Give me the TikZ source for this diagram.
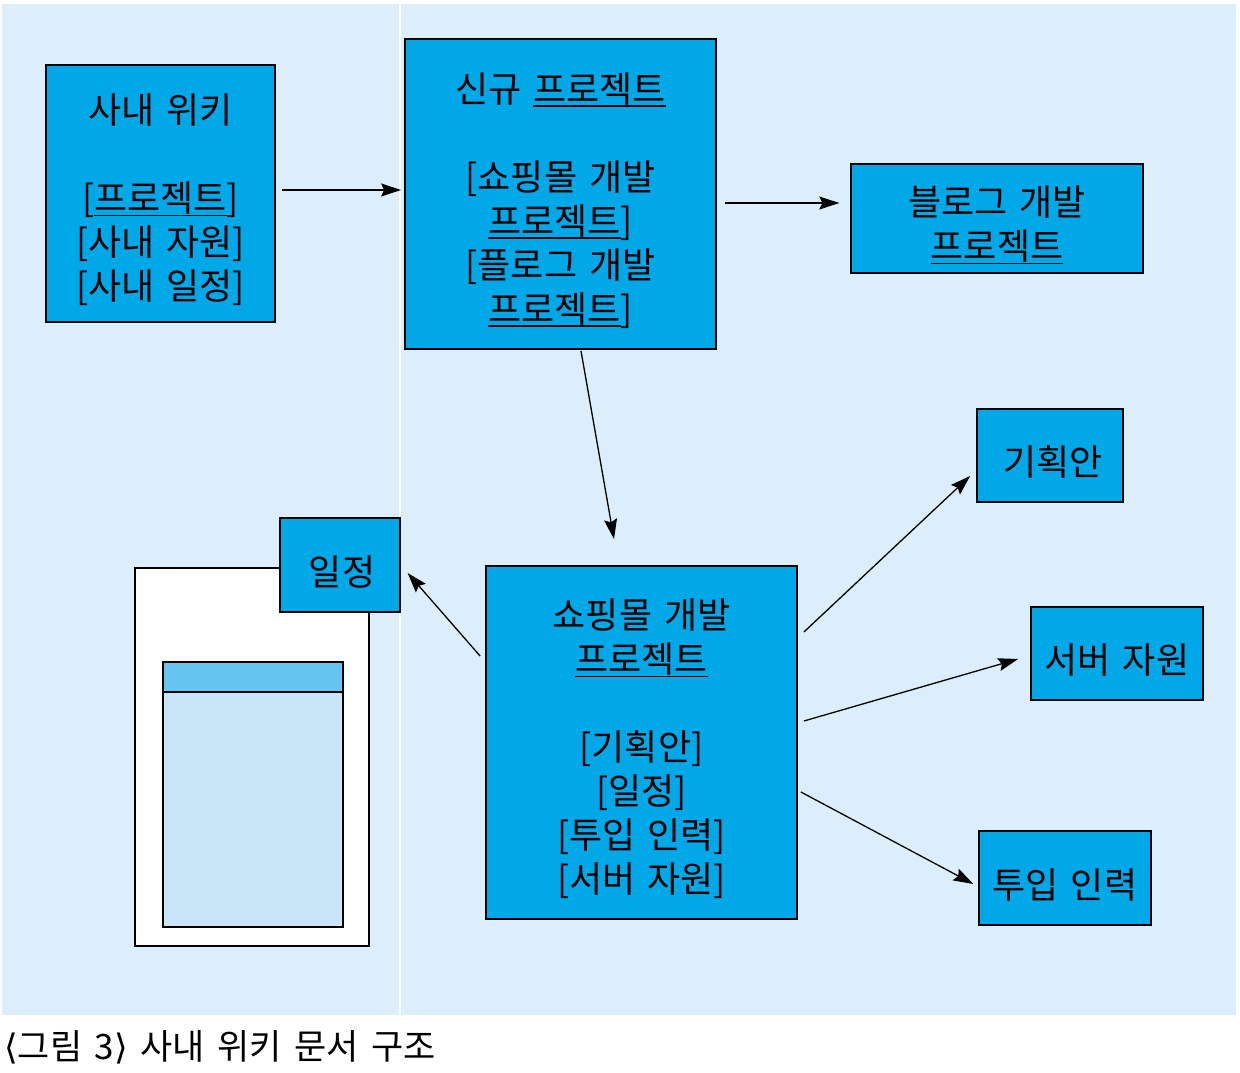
\documentclass[tikz,border=0pt]{standalone}
\usepackage{fontspec}
\setmainfont{Noto Sans CJK KR}
\newfontfamily\symfont{DejaVu Sans}
\usetikzlibrary{arrows.meta}
\definecolor{boxblue}{HTML}{00A8E8}
\definecolor{bgblue}{HTML}{DCEEFB}
\definecolor{headblue}{HTML}{66C4F0}
\definecolor{pageblue}{HTML}{C8E6F8}
\newlength\wlinkwd
\newcommand\wlink[1]{\settowidth\wlinkwd{#1}\rlap{\rule[-4.5pt]{\wlinkwd}{1.6pt}}#1}
\newcommand\widespace[1]{\spaceskip=#1em\relax}
\newcommand\lift{\rule{0pt}{43pt}}
\begin{document}
\begin{tikzpicture}[>={Stealth[length=20pt,width=13pt,inset=3pt]}, x=1pt, y=-1pt,
    box/.style={draw, line width=1.8pt, fill=boxblue, inner sep=0pt, align=center,
        font=\fontsize{36}{44}\selectfont, execute at begin node={\widespace{0.33}}},
    link/.style={->, line width=1.3pt}]
\useasboundingbox (0,0) rectangle (1240,1073);
\fill[bgblue](2,4) rectangle (1236,1015);
\draw[white, line width=1.5pt](400,4)--(400,1015);

% page icon
\draw[line width=1.8pt, fill=white](135,568) rectangle (369,946);
\draw[line width=1.8pt, fill=pageblue](163,662) rectangle (343,927);
\draw[line width=1.8pt, fill=headblue](163,662) rectangle (343,692);

\node (wiki) at (160.5,193.5)[box, minimum width=229pt, minimum height=257pt]
    {\lift 사내 위키\\[44pt]{[}\wlink{프로젝트}]\\{[}사내 자원]\\{[}사내 일정]};
\node (new) at (560.5,194)[box, minimum width=311pt, minimum height=310pt]
    {\lift 신규 \wlink{프로젝트}\\[44pt]{[}쇼핑몰 개발\\\wlink{프로젝트}]\\{[}플로그 개발\\\wlink{프로젝트}]};
\node (blog) at (997,218.5)[box, line width=1.3pt, minimum width=292pt, minimum height=109pt]
    {\lift 블로그 개발\\\wlink{프로젝트}};
\node (shop) at (641.5,742.5)[box, minimum width=311pt, minimum height=353pt]
    {\lift 쇼핑몰 개발\\\wlink{프로젝트}\\[44pt]{[}기획안]\\{[}일정]\\{[}투입 인력]\\{[}서버 자원]};
\node (plan) at (1050,455.5)[box, minimum width=146pt, minimum height=93pt]{\lift\hspace*{6pt}기획안};
\node (server) at (1117,653.5)[box, minimum width=172pt, minimum height=93pt]{\lift 서버 자원};
\node (staff) at (1065,878)[box, line width=1.3pt, minimum width=172pt, minimum height=94pt]{\lift 투입 인력};
\node (sched) at (340,565)[box, line width=1.3pt, minimum width=120pt, minimum height=94pt]{\lift\hspace*{4pt}일정};

\draw[link]([xshift=6pt,yshift=3.5pt]wiki.east)--([xshift=-3pt,yshift=4pt]new.west);
\draw[link]([xshift=8pt,yshift=-9pt]new.east)--([xshift=-11pt,yshift=15.5pt]blog.west);
\draw[link]([xshift=20.5pt,yshift=-1pt]new.south)--([xshift=-27.5pt,yshift=26pt]shop.north);
\draw[link]([xshift=-5pt,yshift=86.5pt]shop.west)--([xshift=7pt,yshift=-8pt]sched.east);
\draw[link]([xshift=6pt,yshift=110.5pt]shop.east)--([xshift=-6pt,yshift=-20.5pt]plan.west);
\draw[link]([xshift=6pt,yshift=21.5pt]shop.east)--([xshift=-12pt,yshift=-5.5pt]server.west);
\draw[link]([xshift=3pt,yshift=-49.5pt]shop.east)--([xshift=-5pt,yshift=-6pt]staff.west);

\node (caption) at (4,1047)[anchor=west, inner sep=0pt, font=\fontsize{35}{40}\selectfont]
    {\widespace{0.36}{\symfont ⟨}그림 3{\symfont ⟩} 사내 위키 문서 구조};
\end{tikzpicture}
\end{document}
